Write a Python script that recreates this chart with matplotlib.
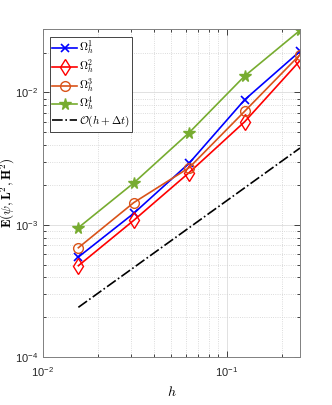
import matplotlib
matplotlib.use('Agg')
import matplotlib.pyplot as plt
from matplotlib.ticker import FuncFormatter
import numpy as np

# mesh sizes and errors
h = [1/64, 1/32, 1/16, 1/8, 1/4]
err_omega1 = [5.7e-4, 1.22e-3, 2.92e-3, 8.8e-3, 2.05e-2]
err_omega2 = [4.9e-4, 1.08e-3, 2.48e-3, 6.0e-3, 1.74e-2]
err_omega3 = [6.7e-4, 1.47e-3, 2.7e-3, 7.2e-3, 1.93e-2]
err_omega4 = [9.5e-4, 2.07e-3, 4.97e-3, 1.33e-2, 2.95e-2]
ref_const = 0.0152

labels = [r'$\Omega_h^1$', r'$\Omega_h^2$', r'$\Omega_h^3$', r'$\Omega_h^4$',
          r'$\mathcal{O}(h+\Delta t)$']

plt.rcParams['font.family'] = ['Liberation Sans', 'DejaVu Sans']
plt.rcParams['mathtext.fontset'] = 'cm'


def pow10(v, pos):
    e = int(round(np.log10(v)))
    return r'$\mathregular{10^{%d}}$' % e


fig = plt.figure(figsize=(3.32, 4.05), dpi=100)
ax = fig.add_axes([0.1286, 0.1185, 0.775, 0.809])

ax.loglog(h, err_omega1, color='#0000ff', marker='x', ms=6, mew=1.2, lw=1.2, label=labels[0])
ax.loglog(h, err_omega2, color='#ff0000', marker='d', ms=8, mfc='none', mew=1.0, lw=1.2, label=labels[1])
ax.loglog(h, err_omega3, color='#d95319', marker='o', ms=7, mfc='none', mew=1.0, lw=1.2, label=labels[2])
ax.loglog(h, err_omega4, color='#77ac30', marker='*', ms=8.5, mew=1.0, lw=1.2, label=labels[3])
ax.loglog(h, [ref_const * x for x in h], color='black', ls='-.', lw=1.2, label=labels[4])

ax.set_xlim(1e-2, 0.25)
ax.set_ylim(1e-4, 3e-2)
ax.xaxis.set_major_formatter(FuncFormatter(pow10))
ax.yaxis.set_major_formatter(FuncFormatter(pow10))

ax.grid(True, which='major', color='#dcdcdc', lw=0.6, ls='-')
ax.grid(True, which='minor', color='#d0d0d0', lw=0.6, ls=':')
ax.set_axisbelow(True)
ax.tick_params(which='both', direction='in', top=True, right=True, labelsize=8,
               colors='#262626', width=0.6)
ax.tick_params(which='major', length=4)
ax.tick_params(which='minor', length=2)
ax.tick_params(axis='x', pad=6)
for s in ax.spines.values():
    s.set_color('#808080')
    s.set_linewidth(0.7)

ax.set_xlabel(r'$h$', fontsize=10, labelpad=4)
ax.set_ylabel(r'$\mathbf{E}(\psi,\mathbf{L}^2,\mathbf{H}^2)$', fontsize=9.5)
ax.yaxis.set_label_coords(-0.1, 0.5)

leg = ax.legend(loc='upper left', fontsize=8, handlelength=2.2, borderpad=0.25,
                labelspacing=0.05, handletextpad=0.2, fancybox=False, framealpha=1,
                edgecolor='#262626', borderaxespad=0.5, bbox_to_anchor=(0.005, 0.995))
leg.get_frame().set_linewidth(0.6)

fig.savefig('out.png', dpi=100)
